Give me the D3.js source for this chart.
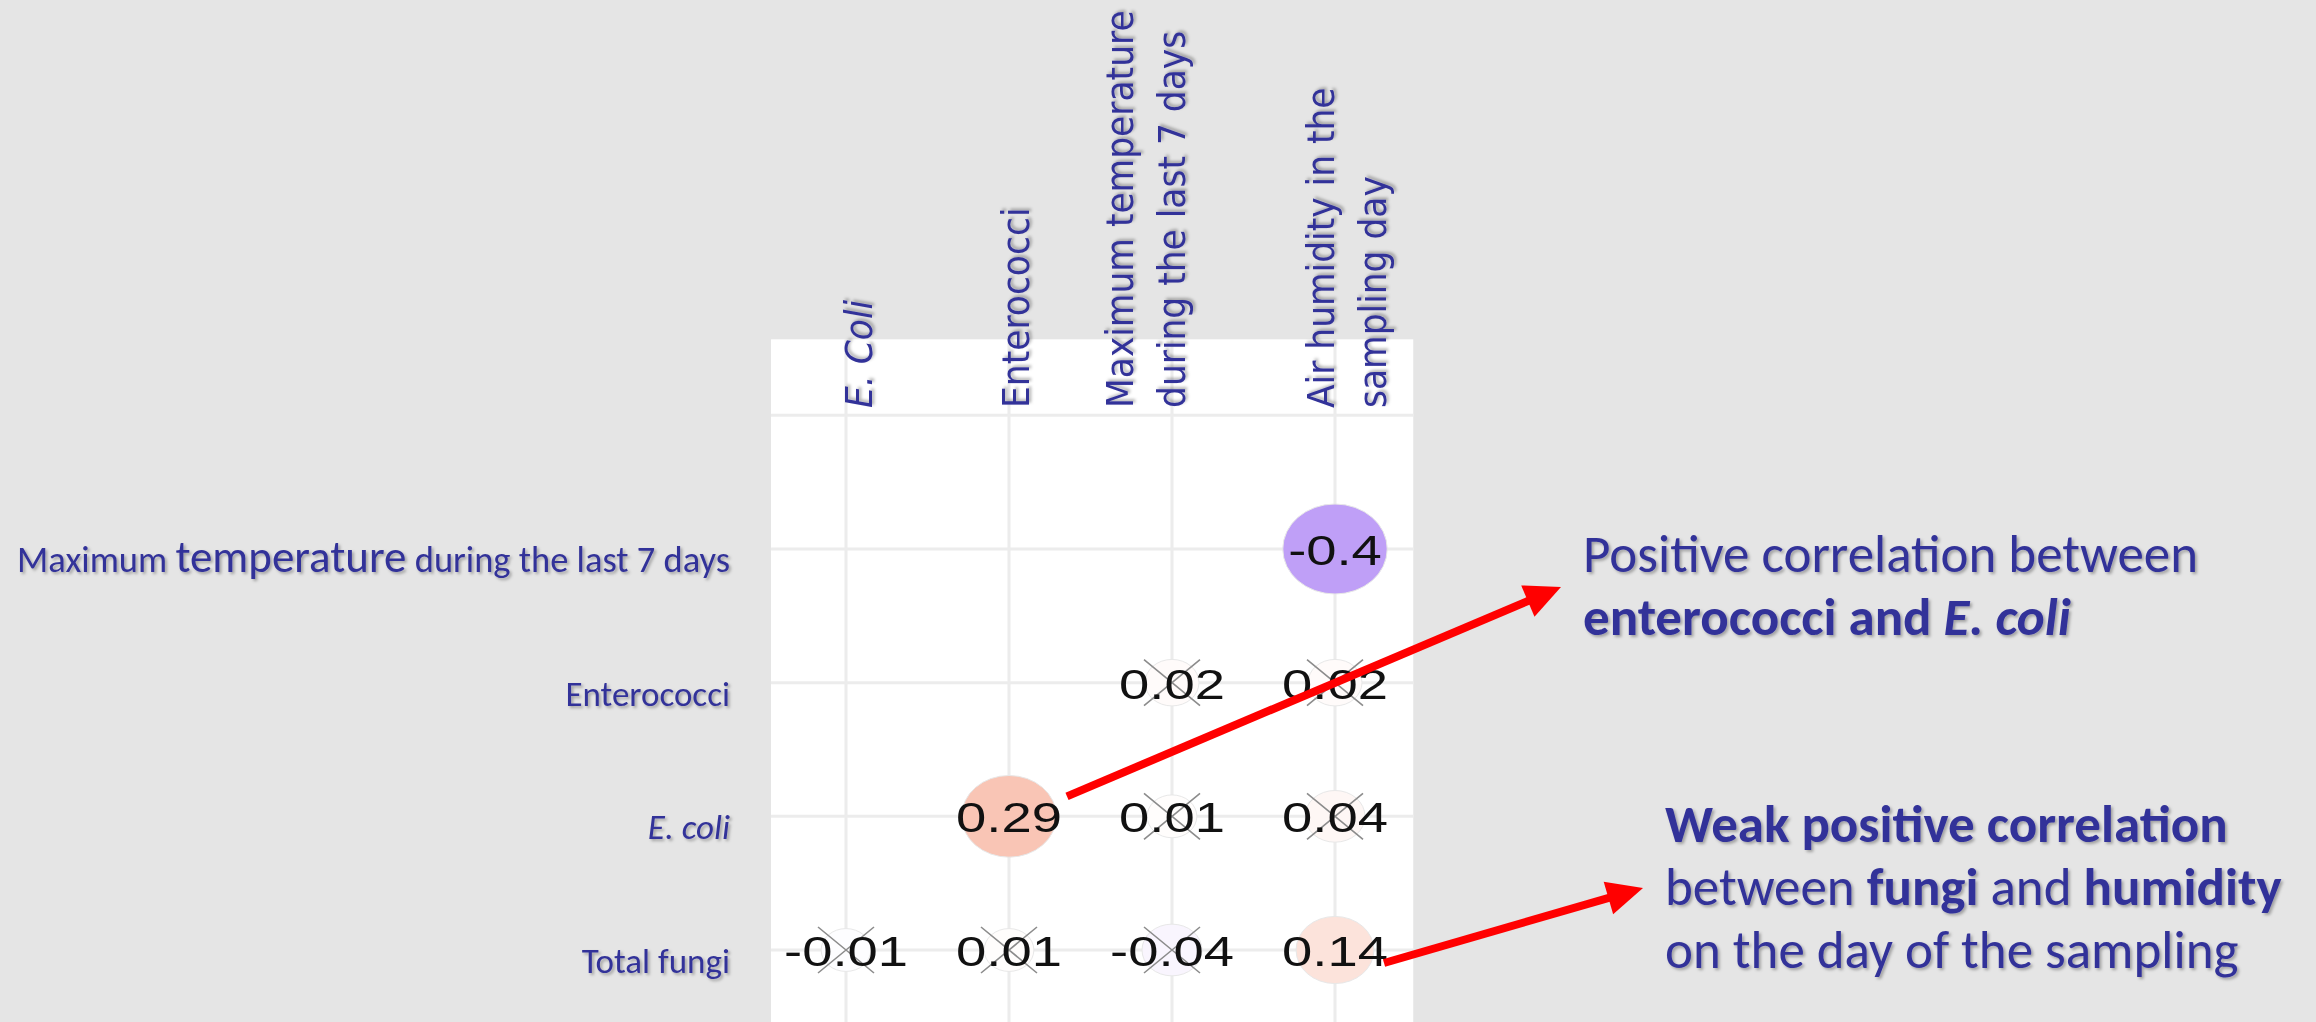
<!DOCTYPE html>
<html>
<head>
<meta charset="utf-8">
<script src="https://cdn.jsdelivr.net/npm/d3@7"></script>
<style>
  body { margin: 0; background: #e5e5e5; }
  svg { display: block; }
</style>
</head>
<body>
<svg id="drawspace" width="2316" height="1022"></svg>
<script>
// columns of the matrix (top labels), split in lines as on the slide
const cols = ["E. Coli", "Enterococci", "Maximum temperature during the last 7 days", "Air humidity in the sampling day"];
const colLines = [["E. Coli"], ["Enterococci"], ["Maximum temperature", "during the last 7 days"], ["Air humidity in the", "sampling day"]];
// rows (left labels)
const rows = ["Maximum temperature during the last 7 days", "Enterococci", "E. coli", "Total fungi"];
// correlation values, null = empty cell
const corrValues = [
  [null, null, null, -0.4],
  [null, null, 0.02, 0.02],
  [null, 0.29, 0.01, 0.04],
  [-0.01, 0.01, -0.04, 0.14]
];
// false = crossed out (not significant)
const significant = [
  [null, null, null, true],
  [null, null, false, false],
  [null, true, false, false],
  [false, false, false, true]
];
const note1 = [[["Positive correlation between", "normal", "normal"]],
  [["enterococci and ", "bold", "normal"], ["E. coli", "bold", "italic"]]];
const note2 = [[["Weak positive correlation", "bold", "normal"]],
  [["between ", "normal", "normal"], ["fungi", "bold", "normal"], [" and ", "normal", "normal"], ["humidity", "bold", "normal"]],
  [["on the day of the sampling", "normal", "normal"]]];

const W = 2316, H = 1022;
const blue = "#333399";
const colLabelShift = [26, 20, -39, -1];

let drawspace = d3.select("#drawspace");

const defs = drawspace.append("defs");
defs.append("filter").attr("id", "shadow")
  .attr("x", "-5%").attr("y", "-20%").attr("width", "120%").attr("height", "160%")
  .append("feDropShadow")
  .attr("dx", 2).attr("dy", 2).attr("stdDeviation", 1.5)
  .attr("flood-color", "#000").attr("flood-opacity", 0.3);

drawspace.append("rect").attr("width", W).attr("height", H).attr("fill", "#e5e5e5");

var xScale = d3.scalePoint().domain(cols).range([846, 1335]);
var yScale = d3.scalePoint().domain(rows).range([549, 950]);
var rScale = d3.scaleSqrt().domain([0, 0.4]).range([17, 45]);
var color = d3.scaleLinear().domain([-1, 0, 1]).range(["#5f0feb", "#ffffff", "#ea3700"]);

const xs = xScale.step(), ys = yScale.step();
const topLine = yScale(rows[0]) - ys;

// white panel
drawspace.append("rect")
  .attr("x", xScale(cols[0]) - 0.46 * xs)
  .attr("y", topLine - 76)
  .attr("width", xScale(cols[3]) - xScale(cols[0]) + 0.94 * xs)
  .attr("height", H)
  .attr("fill", "#ffffff");

// grid
const grid = drawspace.append("g").attr("stroke", "#ececec").attr("stroke-width", 3);
cols.forEach((c) => {
  grid.append("line")
    .attr("x1", xScale(c)).attr("x2", xScale(c))
    .attr("y1", topLine - 76).attr("y2", H);
});
[topLine].concat(rows.map((r) => yScale(r))).forEach((y) => {
  grid.append("line")
    .attr("x1", xScale(cols[0]) - 0.46 * xs).attr("x2", xScale(cols[3]) + 0.48 * xs)
    .attr("y1", y).attr("y2", y);
});

// cells
var cells = [];
rows.forEach((r, i) => {
  cols.forEach((c, j) => {
    if (corrValues[i][j] !== null) {
      cells.push({ row: r, col: c, value: corrValues[i][j], sig: significant[i][j] });
    }
  });
});

var g = drawspace.append("g");

g.selectAll(".dot")
  .data(cells)
  .enter()
  .append("ellipse")
  .attr("class", "dot")
  .attr("cx", (d) => xScale(d.col))
  .attr("cy", (d) => yScale(d.row))
  .attr("rx", (d) => rScale(Math.abs(d.value)) * 1.16)
  .attr("ry", (d) => rScale(Math.abs(d.value)))
  .attr("fill", (d) => color(d.value))
  .attr("stroke", "#e8e8e8")
  .attr("stroke-width", 1);

var crossed = cells.filter((d) => !d.sig);
g.selectAll(".cross")
  .data(crossed)
  .enter()
  .append("path")
  .attr("class", "cross")
  .attr("d", (d) => {
    const cx = xScale(d.col), cy = yScale(d.row);
    return `M${cx - 28},${cy - 23}L${cx + 28},${cy + 23}M${cx + 28},${cy - 23}L${cx - 28},${cy + 23}`;
  })
  .attr("stroke", "#8c8c8c")
  .attr("stroke-width", 1.6)
  .attr("fill", "none");

g.selectAll(".num")
  .data(cells)
  .enter()
  .append("text")
  .attr("class", "num")
  .attr("transform", (d) => `translate(${xScale(d.col)},${yScale(d.row) + 16}) scale(1.28,1)`)
  .attr("text-anchor", "middle")
  .attr("font-family", "'Liberation Sans', Arial, sans-serif")
  .attr("font-size", 42.5)
  .attr("fill", "#111")
  .text((d) => String(d.value));

// column labels, rotated
colLines.forEach((lines, j) => {
  const t = drawspace.append("text")
    .attr("transform", `translate(${xScale(cols[j]) + colLabelShift[j]},408) scale(1.1,1) rotate(-90)`)
    .attr("font-family", "'DejaVu Sans', Verdana, sans-serif")
    .attr("font-size", 34.5)
    .attr("font-style", cols[j].startsWith("E. ") ? "italic" : "normal")
    .attr("fill", blue)
    .attr("filter", "url(#shadow)");
  lines.forEach((line, k) => {
    t.append("tspan").attr("x", 0).attr("dy", k === 0 ? 0 : 47).text(line);
  });
});

// row labels
rows.forEach((r) => {
  const t = drawspace.append("text")
    .attr("x", 730)
    .attr("y", yScale(r) + 23)
    .attr("text-anchor", "end")
    .attr("font-family", "Carlito, Lato, sans-serif")
    .attr("font-size", 35)
    .attr("font-style", r.startsWith("E. ") ? "italic" : "normal")
    .attr("fill", blue)
    .attr("filter", "url(#shadow)");
  if (r.includes("temperature")) {
    t.append("tspan").attr("font-size", 36.5).text("Maximum ");
    t.append("tspan").attr("font-size", 45).text("temperature");
    t.append("tspan").attr("font-size", 36.5).text(" during the last 7 days");
  } else {
    t.text(r);
  }
});

// arrows
function arrow(x1, y1, x2, y2) {
  const dx = x2 - x1, dy = y2 - y1, len = Math.hypot(dx, dy);
  const ux = dx / len, uy = dy / len, hl = 36, hw = 17;
  const bx = x2 - ux * hl, by = y2 - uy * hl;
  drawspace.append("line")
    .attr("x1", x1).attr("y1", y1).attr("x2", bx + ux * 4).attr("y2", by + uy * 4)
    .attr("stroke", "#ff0000").attr("stroke-width", 8);
  drawspace.append("path")
    .attr("d", `M${x2},${y2}L${bx - uy * hw},${by + ux * hw}L${bx + uy * hw},${by - ux * hw}Z`)
    .attr("fill", "#ff0000");
}
arrow(xScale(cols[1]) + 58, yScale(rows[2]) - 20, 1561, 587);
arrow(xScale(cols[3]) + 49, yScale(rows[3]) + 13, 1643, 888);

// notes
function note(lines, x, y0, lh) {
  lines.forEach((parts, k) => {
    const t = drawspace.append("text")
      .attr("x", x).attr("y", y0 + k * lh)
      .attr("font-family", "Carlito, Lato, sans-serif")
      .attr("font-size", 53)
      .attr("fill", blue)
      .attr("filter", "url(#shadow)");
    parts.forEach((p) => {
      t.append("tspan").attr("font-weight", p[1]).attr("font-style", p[2]).text(p[0]);
    });
  });
}
note(note1, 1583, 572, 63);
note(note2, 1665, 842, 63);
</script>
</body>
</html>
